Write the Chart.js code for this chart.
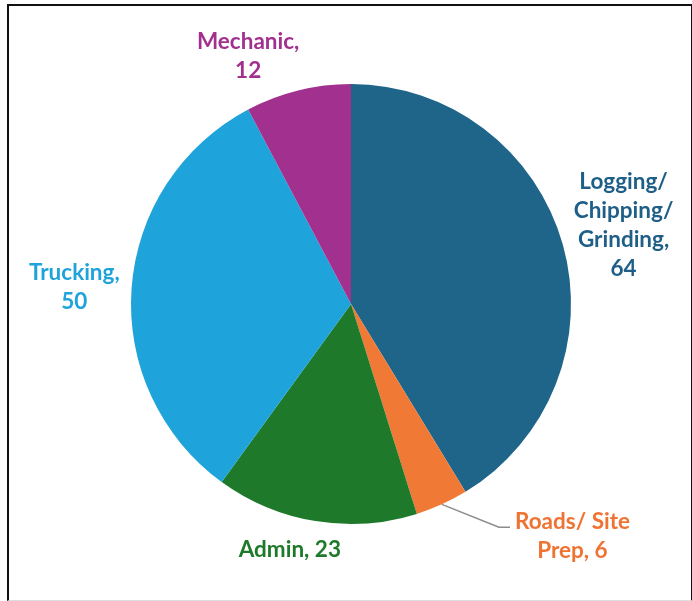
<!DOCTYPE html>
<html>
<head>
<meta charset="utf-8">
<script src="https://cdn.jsdelivr.net/npm/chart.js@4.4.1/dist/chart.umd.min.js"></script>
<style>
  html, body { margin: 0; padding: 0; background: #fff; }
  #wrap { position: relative; width: 692px; height: 601px; }
  #frame { position: absolute; left: 7px; top: 4px; width: 682px; height: 594px;
           border-top: 2px solid #111; border-left: 2px solid #111; border-right: 2px solid #111;
           border-bottom: 1px solid #ddd; box-sizing: content-box; pointer-events: none; }
  canvas { position: absolute; left: 0; top: 0; }
</style>
</head>
<body>
<div id="wrap">
  <canvas id="c" width="692" height="601"></canvas>
  <div id="frame"></div>
</div>
<script>
const categories = ["Logging/ Chipping/ Grinding", "Roads/ Site Prep", "Admin", "Trucking", "Mechanic"];
const values = [64, 6, 23, 50, 12];
const labelLines = [
  ["Logging/", "Chipping/", "Grinding,", "64"],
  ["Roads/ Site", "Prep, 6"],
  ["Admin, 23"],
  ["Trucking,", "50"],
  ["Mechanic,", "12"]
];

const sliceColors = ["#1f6489", "#f07a35", "#1e7a2a", "#1ea3da", "#a2308f"];
const textColors  = ["#1f5f87", "#ef7433", "#1e7a2a", "#1ea3da", "#a2308f"];
// label placement: angle offset from slice middle (deg), distance as factor of radius
const labelPlace = [
  { dAng: -0.5, f: 1.29 },
  { dAng: -19.2, f: 1.46, leader: true },
  { dAng: 4.7, f: 1.15 },
  { dAng: -0.5, f: 1.26 },
  { dAng: -8.6, f: 1.22 }
];

const labelPlugin = {
  id: 'outLabels',
  afterDatasetsDraw(chart) {
    const ctx = chart.ctx;
    const meta = chart.getDatasetMeta(0);
    ctx.save();
    ctx.font = "bold 22.5px Lato, 'Noto Sans', sans-serif";
    ctx.textAlign = 'center';
    ctx.textBaseline = 'middle';
    const lh = 29;
    meta.data.forEach((arc, i) => {
      const p = arc.getProps(['x', 'y', 'startAngle', 'endAngle', 'outerRadius'], true);
      const mid = (p.startAngle + p.endAngle) / 2;
      const pl = labelPlace[i];
      const a = mid + pl.dAng * Math.PI / 180;
      const lx = p.x + Math.cos(a) * p.outerRadius * pl.f;
      const ly = p.y + Math.sin(a) * p.outerRadius * pl.f;
      const lines = labelLines[i];
      const y0 = ly - (lines.length - 1) * lh / 2;
      if (pl.leader) {
        const sx = p.x + Math.cos(mid) * p.outerRadius * 1.0;
        const sy = p.y + Math.sin(mid) * p.outerRadius * 1.0;
        const ey = y0 + 5;
        const tw = ctx.measureText(lines[0]).width;
        const ex = lx - tw / 2 - 5;
        ctx.strokeStyle = '#8c8c8c';
        ctx.lineWidth = 1.5;
        ctx.beginPath();
        ctx.moveTo(sx, sy);
        ctx.lineTo(ex - 11, ey);
        ctx.lineTo(ex, ey);
        ctx.stroke();
      }
      ctx.fillStyle = textColors[i];
      lines.forEach((t, k) => ctx.fillText(t, lx, y0 + k * lh));
    });
    ctx.restore();
  }
};

new Chart(document.getElementById('c'), {
  type: 'pie',
  data: {
    labels: categories,
    datasets: [{
      data: values,
      backgroundColor: sliceColors,
      borderWidth: 0,
      hoverOffset: 0
    }]
  },
  options: {
    responsive: false,
    animation: false,
    events: [],
    layout: { padding: { top: 84, bottom: 77, left: 10, right: 0 } },
    plugins: { legend: { display: false }, tooltip: { enabled: false } }
  },
  plugins: [labelPlugin]
});
</script>
</body>
</html>
